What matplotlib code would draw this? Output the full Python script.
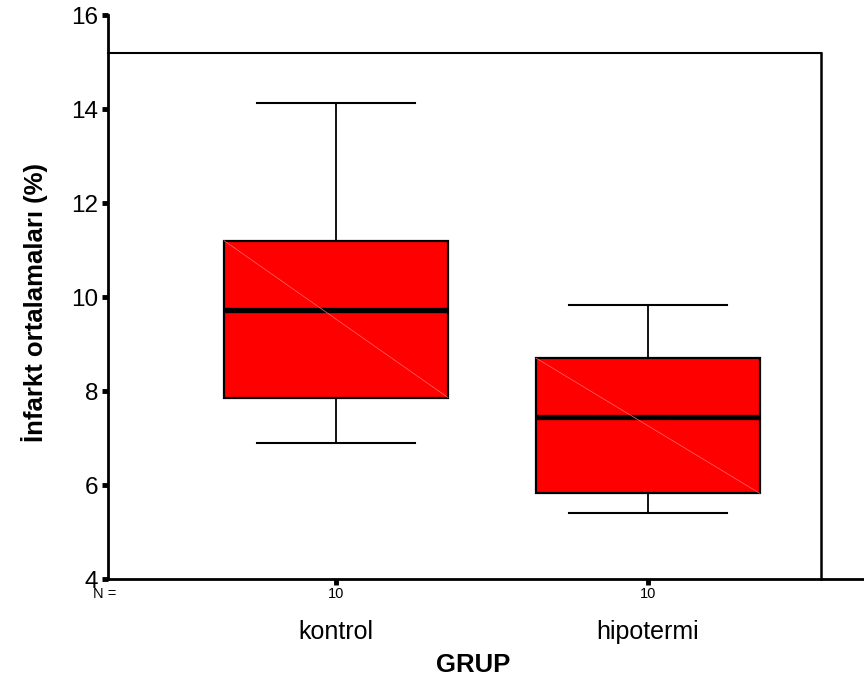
import matplotlib
matplotlib.use("Agg")
import matplotlib.pyplot as plt

plt.rcParams["font.family"] = ["Liberation Sans", "DejaVu Sans"]

# data (SPSS-style boxplot)
groups = ["kontrol", "hipotermi"]
n_counts = [10, 10]
whisker_lo = [6.90, 5.40]
q1 = [7.86, 5.82]
medians = [9.72, 7.44]
q3 = [11.20, 8.70]
whisker_hi = [14.12, 9.84]
y_ticks = [4, 6, 8, 10, 12, 14, 16]

fig = plt.figure(figsize=(8.64, 6.84), dpi=100)
ax = fig.add_axes([108 / 864, 105 / 684, 756 / 864, 564 / 684])

positions = [1, 2]
stats = []
for i, g in enumerate(groups):
    stats.append(dict(label=g, whislo=whisker_lo[i], q1=q1[i], med=medians[i],
                      q3=q3[i], whishi=whisker_hi[i], fliers=[]))

box_w = 224 / 312
ax.bxp(stats, positions=positions, widths=box_w, patch_artist=True,
       showfliers=False, capwidths=158 / 312,
       boxprops=dict(facecolor="#ff0000", edgecolor="black", linewidth=1.6),
       medianprops=dict(color="black", linewidth=3.8, solid_capstyle="butt"),
       whiskerprops=dict(color="black", linewidth=1.3),
       capprops=dict(color="black", linewidth=1.5))

# faint diagonal seen across each box in the original render
for i, p in enumerate(positions):
    ax.plot([p - box_w / 2, p + box_w / 2], [q3[i], q1[i]], color="#ff6a6a",
            lw=0.5, zorder=3)

x_lo, x_hi = 1 - 228 / 312, 2 + 216 / 312
frame_x = 2 + 173 / 312
frame_y = 4 + (579 - 53) / 47
ax.set_xlim(x_lo, x_hi)
ax.set_ylim(4, 16)

# inner frame (top and right), like SPSS output
ax.plot([x_lo, frame_x], [frame_y, frame_y], color="black", lw=1.5, clip_on=False)
ax.plot([frame_x, frame_x], [4, frame_y], color="black", lw=1.8, clip_on=False)

for s in ["top", "right"]:
    ax.spines[s].set_visible(False)
for s in ["left", "bottom"]:
    ax.spines[s].set_linewidth(2.0)

ax.set_yticks(y_ticks)
ax.set_yticklabels([str(t) for t in y_ticks])
ax.tick_params(axis="y", labelsize=17.5, length=4, width=3.5, pad=3)
ax.set_xticks(positions)
ax.set_xticklabels([])
ax.tick_params(axis="x", length=4, width=3.5)

# N counts under the axis
ax.text(x_lo - 3 / 312, 3.68, "N =", fontsize=10.5, ha="center", va="center")
for p, n in zip(positions, n_counts):
    ax.text(p, 3.68, str(n), fontsize=10.5, ha="center", va="center")
for p, g in zip(positions, groups):
    ax.text(p, 2.87, g, fontsize=18, ha="center", va="center")

fig.text(473 / 864, 1 - 665 / 684, "GRUP", fontsize=18.5, fontweight="bold",
         ha="center", va="center")
fig.text(35 / 864, 1 - 303 / 684, "İnfarkt ortalamaları (%)", fontsize=18.5,
         fontweight="bold", rotation=90, ha="center", va="center")

fig.savefig("out.png", dpi=100)
